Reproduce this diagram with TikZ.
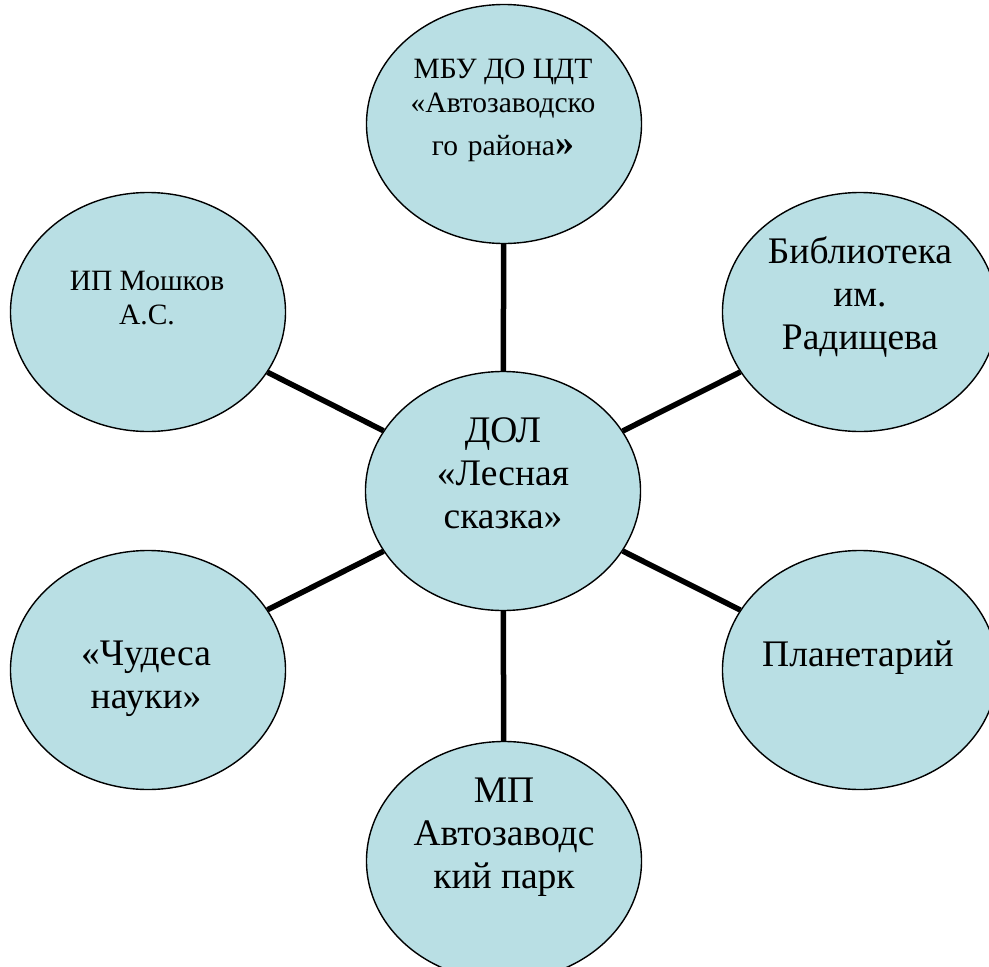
\documentclass[tikz,border=0pt]{standalone}
\usepackage{fontspec}
\setmainfont{Liberation Serif}
\usetikzlibrary{shapes.geometric}
\definecolor{ellfill}{HTML}{B9DFE4}
\newcommand{\txtlines}[1]{\begin{tabular}[t]{@{}c@{}}#1\end{tabular}}
\begin{document}
\begin{tikzpicture}[x=1pt,y=-1pt,
  ell/.style={ellipse, draw=black, line width=1.4pt, fill=ellfill,
    minimum width=275pt, minimum height=239pt, inner sep=0pt},
  link/.style={line width=5.5pt, draw=black},
  big/.style={anchor=base, inner sep=0pt, font=\fontsize{37.5}{43}\selectfont},
  small/.style={anchor=base, inner sep=0pt, font=\fontsize{29.5}{34}\selectfont}]
\useasboundingbox (0,0) rectangle (989,967);
\node[ell] (T) at (504,124) {};
\node[ell] (C) at (503,491) {};
\node[ell] (UL) at (148,312) {};
\node[ell] (LL) at (148,670) {};
\node[ell] (UR) at (860,312) {};
\node[ell] (LR) at (860,670) {};
\node[ell] (B) at (504,861) {};
\draw[link] (C) -- (T);
\draw[link] (C) -- (UL);
\draw[link] (C) -- (LL);
\draw[link] (C) -- (UR);
\draw[link] (C) -- (LR);
\draw[link] (C) -- (B);
\node[small] (tT) at (503,78) {\txtlines{МБУ ДО ЦДТ\\«Автозаводско\\[9pt]го\,\,района{\fontsize{38}{38}\selectfont\textbf{»}}}};
\node[small] (tUL) at (147,290) {\txtlines{ИП Мошков\\А.С.}};
\node[big] (tC) at (503,442) {\txtlines{ДОЛ\\«Лесная\\сказка»}};
\node[big] (tUR) at (860,263) {\txtlines{Библиотека\\им.\\Радищева}};
\node[big] (tLL) at (146,665) {\txtlines{«Чудеса\\науки»}};
\node[big] (tLR) at (858,666) {Планетарий};
\node[big] (tB) at (504,802) {\txtlines{МП\\Автозаводс\\кий парк}};
\end{tikzpicture}
\end{document}
